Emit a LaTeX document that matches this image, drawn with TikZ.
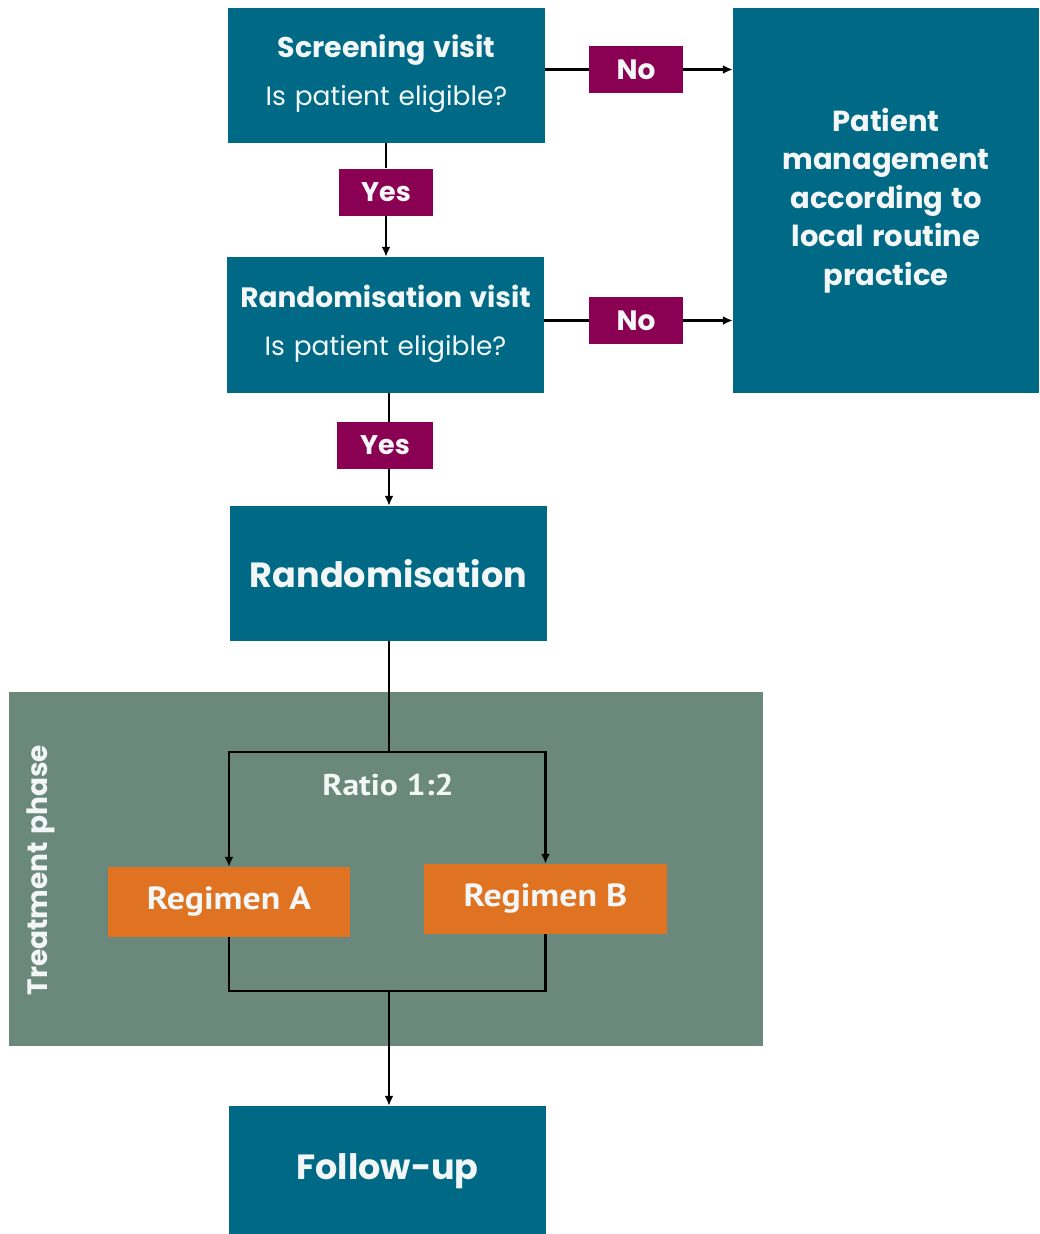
\documentclass[tikz,border=0pt]{standalone}
\usepackage{fontspec}
\setmainfont[WordSpace=1.25]{Poppins}
\newfontfamily\narrowfont[FakeStretch=1.12]{PT Sans}
\usetikzlibrary{arrows.meta}
\definecolor{teal}{HTML}{006A86}
\definecolor{plum}{HTML}{8A0052}
\definecolor{tangerine}{HTML}{E07322}
\definecolor{sage}{HTML}{6A887B}
\definecolor{paletext}{HTML}{F2F6F6}
\tikzset{
  box/.style={fill=teal, text=paletext, inner sep=0pt, align=center, font=\bfseries},
  boxtitle/.style={anchor=base, text=paletext, inner sep=0pt, font=\fontsize{28.5}{32}\selectfont\bfseries},
  boxquestion/.style={anchor=base, text=paletext, inner sep=0pt, font=\fontsize{26.5}{30}\selectfont},
  tag/.style={fill=plum, text=paletext, inner sep=0pt, minimum width=94pt, minimum height=47pt, font=\fontsize{28}{30}\selectfont\bfseries},
  regimen/.style={fill=tangerine, text=paletext, inner sep=0pt, minimum width=242pt, minimum height=70pt, font=\narrowfont\fontsize{32}{36}\selectfont\bfseries},
  link/.style={line width=2.4pt, draw=black},
  arrowlink/.style={link, -{Latex[length=10pt,width=9pt]}},
}
\begin{document}
\begin{tikzpicture}[x=1pt, y=-1pt]
  \useasboundingbox (0,0) rectangle (1039,1234);

  % treatment phase panel
  \node[fill=sage, inner sep=0pt, minimum width=754pt, minimum height=354pt] (phase) at (386,869) {};
  \node[rotate=90, text=paletext, font=\fontsize{28}{32}\selectfont\bfseries] (phaselabel) at (41,870) {Treatment phase};

  % visit boxes with their question
  \node[box, minimum width=317pt, minimum height=135pt] (screen) at (386.5,75.5) {};
  \node[boxtitle] (screentitle) at ([yshift=18.5pt]screen.center) {Screening visit};
  \node[boxquestion] (screenq) at ([yshift=-29.5pt]screen.center) {Is patient eligible?};

  \node[box, minimum width=317pt, minimum height=136pt] (rvisit) at (385.5,325) {};
  \node[boxtitle, font=\fontsize{28}{32}\selectfont\bfseries] (rvisittitle) at ([yshift=18pt]rvisit.center) {Randomisation visit};
  \node[boxquestion] (rvisitq) at ([yshift=-30pt]rvisit.center) {Is patient eligible?};

  % outcome boxes
  \node[box, minimum width=306pt, minimum height=385pt, font=\fontsize{29}{38.5}\selectfont\bfseries] (manage) at (886,200.5)
    {Patient\\ management\\ according to\\ local routine\\ practice};
  \node[box, minimum width=317pt, minimum height=135pt, font=\fontsize{35}{40}\selectfont\bfseries] (rand) at (388.5,573.5) {Randomisation};
  \node[box, minimum width=317pt, minimum height=130pt, font=\fontsize{35}{40}\selectfont\bfseries] (follow) at (387.5,1171) {Follow-up};

  % decision tags
  \node[tag] (no1) at (636,69.5) {No};
  \node[tag] (no2) at (636,320.5) {No};
  \node[tag, font=\fontsize{27}{30}\selectfont\bfseries] (yes1) at (386,192) {Yes};
  \node[tag, minimum width=96pt, font=\fontsize{27}{30}\selectfont\bfseries] (yes2) at (385,445.5) {Yes};

  % treatment arms
  \node[regimen] (rega) at (229,902) {Regimen A};
  \node[regimen, minimum width=243pt] (regb) at (545.5,899) {Regimen B};
  \node[text=paletext, font=\narrowfont\fontsize{30}{34}\selectfont\bfseries] (ratio) at (388,785) {Ratio 1:2};

  % junction points
  \coordinate (split) at (389,752);
  \coordinate (join) at (389,991);

  % screening path
  \draw[link] (screen.east |- no1) -- (no1.west);
  \draw[arrowlink] (no1.east) -- (manage.west |- no1);
  \draw[link] (screen.south -| yes1) -- (yes1.north);
  \draw[arrowlink] (yes1.south) -- (rvisit.north -| yes1);

  % randomisation path
  \draw[link] (rvisit.east |- no2) -- (no2.west);
  \draw[arrowlink] (no2.east) -- (manage.west |- no2);
  \draw[link] (rvisit.south -| split) -- (yes2.north -| split);
  \draw[arrowlink] (yes2.south -| split) -- (rand.north -| split);

  % allocation
  \draw[link] (rand.south -| split) -- (split);
  \draw[arrowlink] (split) -| (rega.north);
  \draw[arrowlink] (split) -| (regb.north);
  \draw[link] (rega.south) |- (join);
  \draw[link] (regb.south) |- (join);
  \draw[arrowlink] (join) -- (follow.north -| join);
\end{tikzpicture}
\end{document}
